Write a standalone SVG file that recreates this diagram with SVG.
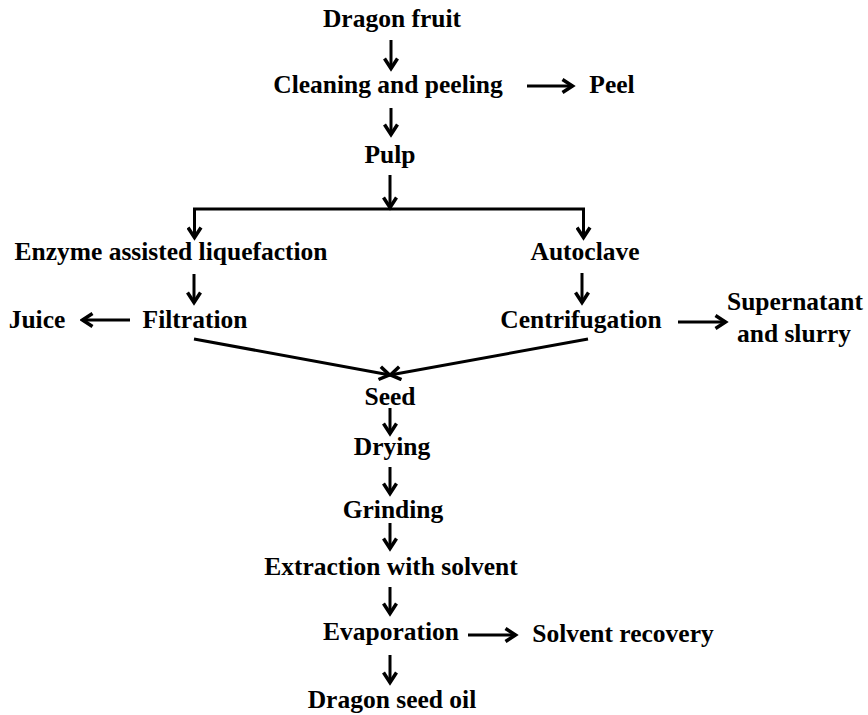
<svg xmlns="http://www.w3.org/2000/svg" width="868" height="715" viewBox="0 0 868 715">
<defs>
<marker id="ah" markerUnits="userSpaceOnUse" viewBox="0 0 16 16" refX="13.5" refY="8" markerWidth="16" markerHeight="16" orient="auto">
<path d="M3,1.5 L13,8 L3,14.5" fill="none" stroke="#000" stroke-width="3.5"/>
</marker>
<style>
text{font-family:"Liberation Serif","Times New Roman",serif;font-weight:bold;font-size:25.5px;fill:#000;text-anchor:middle}
.c line,.c polyline,.c path{stroke:#000;stroke-width:3;fill:none}
.a{marker-end:url(#ah)}
</style>
</defs>
<rect width="868" height="715" fill="#fff"/>
<g id="n-dragon-fruit"><text x="392" y="27">Dragon fruit</text></g>
<g id="n-cleaning"><text x="388" y="93">Cleaning and peeling</text></g>
<g id="n-peel"><text x="612" y="93">Peel</text></g>
<g id="n-pulp"><text x="390" y="163">Pulp</text></g>
<g id="n-enzyme"><text x="171" y="260">Enzyme assisted liquefaction</text></g>
<g id="n-autoclave"><text x="585" y="260">Autoclave</text></g>
<g id="n-juice"><text x="37" y="328">Juice</text></g>
<g id="n-filtration"><text x="195" y="328">Filtration</text></g>
<g id="n-centrifugation"><text x="581" y="328">Centrifugation</text></g>
<g id="n-supernatant"><text x="795" y="310">Supernatant</text><text x="794" y="342">and slurry</text></g>
<g id="n-seed"><text x="390" y="405">Seed</text></g>
<g id="n-drying"><text x="392" y="455">Drying</text></g>
<g id="n-grinding"><text x="393" y="518">Grinding</text></g>
<g id="n-extraction"><text x="391" y="575">Extraction with solvent</text></g>
<g id="n-evaporation"><text x="391" y="640">Evaporation</text></g>
<g id="n-solvent-recovery"><text x="623" y="642">Solvent recovery</text></g>
<g id="n-dragon-seed-oil"><text x="392" y="708">Dragon seed oil</text></g>
<g id="connectors" class="c">
<line class="a" x1="391" y1="40" x2="391" y2="69"/>
<line class="a" x1="527" y1="86" x2="573" y2="86"/>
<line class="a" x1="391" y1="108" x2="391" y2="135"/>
<line class="a" x1="390" y1="175" x2="390" y2="208"/>
<polyline points="194.5,237 194.5,209 583.5,209 583.5,237" style="stroke-linejoin:miter"/>
<line class="a" x1="194.5" y1="209" x2="194.5" y2="238"/>
<line class="a" x1="583.5" y1="209" x2="583.5" y2="238"/>
<line class="a" x1="194" y1="274" x2="194" y2="303"/>
<line class="a" x1="582" y1="273" x2="582" y2="303"/>
<line class="a" x1="130" y1="320" x2="82" y2="320"/>
<line class="a" x1="678" y1="322" x2="726" y2="322"/>
<line class="a" x1="194" y1="339" x2="390" y2="375"/>
<line class="a" x1="588" y1="339" x2="390" y2="375"/>
<line class="a" x1="390" y1="408" x2="390" y2="434"/>
<line class="a" x1="390" y1="467" x2="390" y2="494"/>
<line class="a" x1="390" y1="523" x2="390" y2="549"/>
<line class="a" x1="390" y1="587" x2="390" y2="614"/>
<line class="a" x1="468" y1="635" x2="516" y2="635"/>
<line class="a" x1="390" y1="655" x2="390" y2="683"/>
</g>
</svg>
